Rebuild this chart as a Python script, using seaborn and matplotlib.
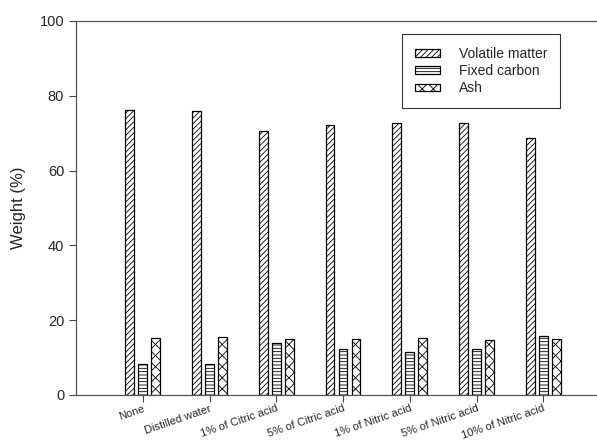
import matplotlib
matplotlib.use("Agg")
import matplotlib.pyplot as plt
import seaborn as sns
import pandas as pd

# data
treatments = ["None", "Distilled water", "1% of Citric acid", "5% of Citric acid",
              "1% of Nitric acid", "5% of Nitric acid", "10% of Nitric acid"]
volatile_matter = [76.2, 75.9, 70.5, 72.3, 72.7, 72.7, 68.7]
fixed_carbon = [8.3, 8.3, 14.0, 12.4, 11.6, 12.4, 15.8]
ash = [15.2, 15.5, 15.1, 15.1, 15.3, 14.8, 15.1]
components = ["Volatile matter", "Fixed carbon", "Ash"]

df = pd.DataFrame({"treatment": treatments,
                   "Volatile matter": volatile_matter,
                   "Fixed carbon": fixed_carbon,
                   "Ash": ash})
df = df.melt(id_vars="treatment", var_name="component", value_name="weight")

sns.set_style("ticks")
plt.rcParams["font.family"] = ["Liberation Sans", "DejaVu Sans"]
plt.rcParams["hatch.linewidth"] = 0.6
plt.rcParams["hatch.color"] = "black"

fig = plt.figure(figsize=(5.97, 4.41), dpi=100)
ax = fig.add_axes([76 / 597, 46 / 441, 534 / 597, 374 / 441])

sns.barplot(data=df, x="treatment", y="weight", hue="component",
            hue_order=components, order=treatments,
            palette=["white"] * 3, edgecolor="black", linewidth=0.9,
            width=0.585, gap=0.34, legend=False, ax=ax)

hatches = ["//////", "-----", "xxx"]
for cont, h in zip(ax.containers, hatches):
    for bar in cont:
        bar.set_hatch(h)
        bar.set_facecolor("white")
        bar.set_edgecolor("black")

ax.set_xlim(-1, 7)
ax.set_ylim(0, 100)
ax.set_yticks([0, 20, 40, 60, 80, 100])
ax.set_xlabel("")
ax.set_ylabel("Weight (%)", fontsize=12, labelpad=10)
ax.tick_params(axis="y", labelsize=10.5, length=5, width=0.8, color="#444444")
ax.tick_params(axis="x", labelsize=8, length=5, width=0.8, color="#444444", pad=1)
plt.setp(ax.get_xticklabels(), rotation=19, ha="right", rotation_mode="anchor")

for side in ["left", "bottom", "top"]:
    ax.spines[side].set_color("#555555")
    ax.spines[side].set_linewidth(0.9)
ax.spines["right"].set_visible(False)

leg = ax.legend(ax.containers, components, loc="upper left",
                bbox_to_anchor=((402 - 76) / 534, 1 - 13 / 374),
                borderaxespad=0, fontsize=10, frameon=True, fancybox=False,
                edgecolor="black", handlelength=1.8, handleheight=0.5,
                labelspacing=0.25, borderpad=0.9, handletextpad=1.4)
leg.get_frame().set_linewidth(0.8)

fig.savefig("out.png", dpi=100)
